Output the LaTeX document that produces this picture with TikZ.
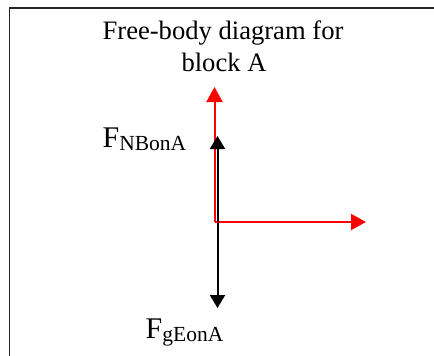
\documentclass[tikz,border=0pt]{standalone}
\usepackage{fontspec}
\setmainfont{Liberation Serif}
\usetikzlibrary{arrows.meta}
\tikzset{
  title/.style={anchor=base, inner sep=0pt, font=\fontsize{26.6}{31}\selectfont},
  lbl/.style={anchor=base west, inner sep=0pt},
  redvec/.style={draw=red, line width=2pt, -{Triangle[width=16pt,length=15pt]}},
  blackvec/.style={draw=black, line width=2pt, -{Triangle[width=15pt,length=13pt]}},
  frameline/.style={draw=black!85, line width=1.4pt}
}
\newcommand{\forcelabel}[2]{{\fontsize{30}{30}\selectfont #1}\raisebox{-3pt}{\fontsize{21.5}{21.5}\selectfont #2}}
\begin{document}
\begin{tikzpicture}[x=1pt,y=-1pt]
\useasboundingbox (0,0) rectangle (434,356);
% frame (top and left edges only visible)
\coordinate (fTR) at (434,8);
\coordinate (fTL) at (9.5,8);
\coordinate (fBL) at (9.5,356);
\draw[frameline] (fTR) -- (fTL) -- (fBL);
% title
\node[title] (t1) at (223,39.5) {Free-body diagram for};
\node[title] (t2) at (224,71) {block A};
% vectors
\coordinate (O) at (214.5,222);
\coordinate (Ob) at (217.5,222);
\coordinate (up) at (214.5,87);
\coordinate (right) at (366,222);
\coordinate (nup) at (217.5,136);
\coordinate (gdown) at (217.5,308);
\draw[blackvec] (Ob) -- (gdown);
\draw[redvec] (O) -- (right);
\draw[redvec] (O) -- (up);
\draw[blackvec] (Ob) -- (nup);
% labels
\node[lbl] (FN) at (102.5,147) {\forcelabel{F}{NBonA}};
\node[lbl] (Fg) at (145.5,338) {\forcelabel{F}{gEonA}};
\end{tikzpicture}
\end{document}
